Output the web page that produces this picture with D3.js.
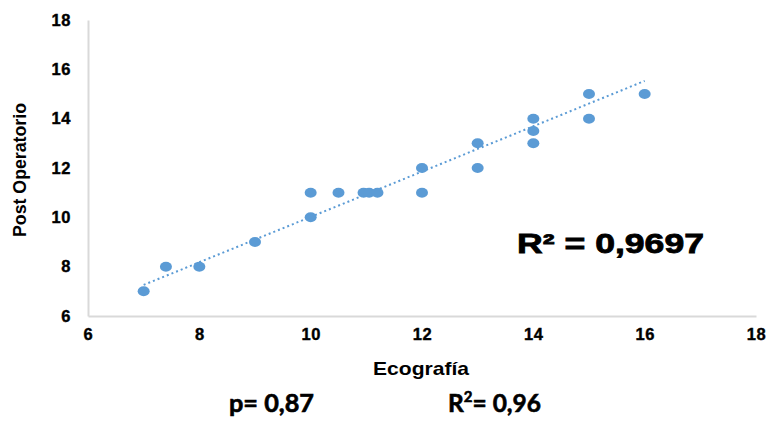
<!DOCTYPE html>
<html><head><meta charset="utf-8">
<script src="https://cdn.jsdelivr.net/npm/d3@7"></script>
<style>body{margin:0;background:#fff}svg{display:block}</style>
</head><body>
<svg id="c" width="767" height="423"></svg>
<script>
const ecografia = [7, 7.4, 8, 9, 10, 10, 10.5, 10.95, 11.05, 11.2, 12, 12, 13, 13, 14, 14, 14, 15, 15, 16];
const postOperatorio = [7, 8, 8, 9, 10, 11, 11, 11, 11, 11, 12, 11, 13, 12, 14, 13.5, 13, 15, 14, 15];
const trendX = [7, 16];
const trendY = [7.26, 15.53];
const xTicks = [6, 8, 10, 12, 14, 16, 18];
const yTicks = [6, 8, 10, 12, 14, 16, 18];
const xTitle = "Ecografía";
const yTitle = "Post Operatorio";
const r2Label = "R² = 0,9697";
const pText = "p= 0,87";
const r2Text = "= 0,96";

const svg = d3.select("#c");
const x = d3.scaleLinear().domain([6, 18]).range([88, 756]);
const y = d3.scaleLinear().domain([6, 18]).range([316, 20]);
const sans = "'Liberation Sans',Arial,sans-serif";
const narrow = "'Liberation Sans Narrow','Arial Narrow',Arial,sans-serif";

// axes
const xAxis = svg.append("g").attr("transform", "translate(0,316)")
  .call(d3.axisBottom(x).tickValues(xTicks).tickSize(0).tickPadding(12).tickFormat(d3.format("d")));
const yAxis = svg.append("g").attr("transform", "translate(88,0)")
  .call(d3.axisLeft(y).tickValues(yTicks).tickSize(0).tickPadding(17).tickFormat(d3.format("d")));
[xAxis, yAxis].forEach(a => {
  a.select(".domain").attr("stroke", "#d9d9d9").attr("stroke-width", 2);
  a.selectAll("text").attr("font-family", sans).attr("font-weight", "bold")
    .attr("font-size", 16.5).attr("fill", "#000").attr("stroke", "#000").attr("stroke-width", 0.4)
    .attr("letter-spacing", 0.6);
});

// trendline
svg.append("line")
  .attr("x1", x(trendX[0])).attr("y1", y(trendY[0]))
  .attr("x2", x(trendX[1])).attr("y2", y(trendY[1]))
  .attr("stroke", "#5B9BD5").attr("stroke-width", 2)
  .attr("stroke-dasharray", "2,3");

// points
svg.append("g").selectAll("ellipse").data(d3.range(ecografia.length)).join("ellipse")
  .attr("cx", i => x(ecografia[i])).attr("cy", i => y(postOperatorio[i]))
  .attr("rx", 6).attr("ry", 5).attr("fill", "#5B9BD5");

// titles
svg.append("text").attr("x", 421).attr("y", 375).attr("text-anchor", "middle")
  .attr("font-family", sans).attr("font-weight", "bold").attr("font-size", 18.5)
  .attr("textLength", 96).attr("lengthAdjust", "spacingAndGlyphs").text(xTitle);
svg.append("text").attr("transform", "translate(26,170) rotate(-90)").attr("text-anchor", "middle")
  .attr("font-family", narrow).attr("font-weight", "bold").attr("font-size", 19)
  .attr("textLength", 134).attr("lengthAdjust", "spacingAndGlyphs").text(yTitle);

// R2 label
svg.append("text").attr("x", 517).attr("y", 253)
  .attr("font-family", sans).attr("font-weight", "900")
  .attr("font-size", 27).attr("textLength", 187).attr("lengthAdjust", "spacingAndGlyphs")
  .attr("stroke", "#000").attr("stroke-width", 0.8).text(r2Label);

// bottom stats
const stat = "Lato,'Open Sans',sans-serif";
svg.append("text").attr("x", 229).attr("y", 412)
  .attr("font-family", stat).attr("font-weight", "bold").attr("font-size", 24)
  .attr("stroke", "#000").attr("stroke-width", 0.6)
  .attr("textLength", 85).attr("lengthAdjust", "spacingAndGlyphs").text(pText);
const t2 = svg.append("text").attr("x", 448).attr("y", 412)
  .attr("font-family", stat).attr("font-weight", "bold").attr("font-size", 24.5)
  .attr("stroke", "#000").attr("stroke-width", 0.6);
t2.append("tspan").text("R");
t2.append("tspan").attr("font-size", 15).attr("dy", -10).text("2");
t2.append("tspan").attr("dy", 10).text(r2Text);
</script>
</body></html>
